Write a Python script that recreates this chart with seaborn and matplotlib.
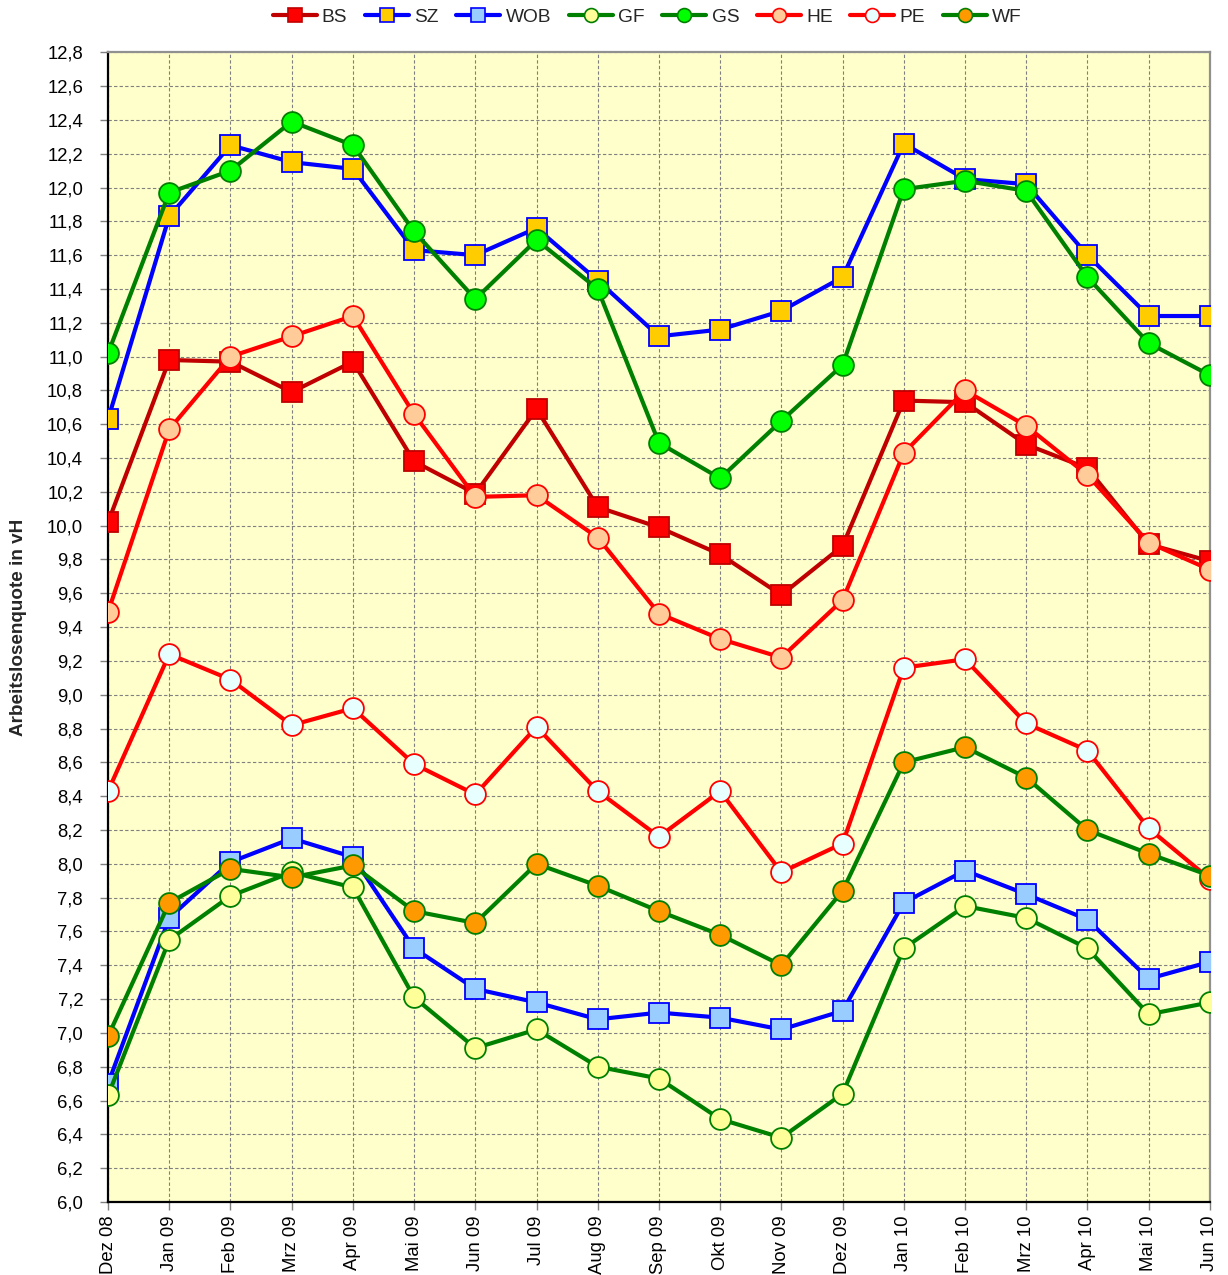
import matplotlib
matplotlib.use("Agg")
import matplotlib.pyplot as plt
from matplotlib.lines import Line2D
from matplotlib.ticker import FuncFormatter, MultipleLocator
import seaborn as sns
import pandas as pd

months = ["Dez 08", "Jan 09", "Feb 09", "Mrz 09", "Apr 09", "Mai 09", "Jun 09",
          "Jul 09", "Aug 09", "Sep 09", "Okt 09", "Nov 09", "Dez 09", "Jan 10",
          "Feb 10", "Mrz 10", "Apr 10", "Mai 10", "Jun 10"]

BS = [10.02, 10.98, 10.97, 10.79, 10.97, 10.38, 10.19, 10.69, 10.11, 9.99,
      9.83, 9.59, 9.88, 10.74, 10.73, 10.48, 10.34, 9.89, 9.79]
SZ = [10.63, 11.83, 12.25, 12.15, 12.11, 11.63, 11.60, 11.76, 11.45, 11.12,
      11.16, 11.27, 11.47, 12.26, 12.05, 12.02, 11.60, 11.24, 11.24]
WOB = [6.70, 7.68, 8.01, 8.15, 8.04, 7.50, 7.26, 7.18, 7.08, 7.12,
       7.09, 7.02, 7.13, 7.77, 7.96, 7.82, 7.67, 7.32, 7.42]
GF = [6.63, 7.55, 7.81, 7.95, 7.86, 7.21, 6.91, 7.02, 6.80, 6.73,
      6.49, 6.38, 6.64, 7.50, 7.75, 7.68, 7.50, 7.11, 7.18]
GS = [11.02, 11.97, 12.10, 12.39, 12.25, 11.74, 11.34, 11.69, 11.40, 10.49,
      10.28, 10.62, 10.95, 11.99, 12.04, 11.98, 11.47, 11.08, 10.89]
HE = [9.49, 10.57, 11.00, 11.12, 11.24, 10.66, 10.17, 10.18, 9.93, 9.48,
      9.33, 9.22, 9.56, 10.43, 10.80, 10.59, 10.30, 9.90, 9.74]
PE = [8.43, 9.24, 9.09, 8.82, 8.92, 8.59, 8.41, 8.81, 8.43, 8.16,
      8.43, 7.95, 8.12, 9.16, 9.21, 8.83, 8.67, 8.21, 7.91]
WF = [6.98, 7.77, 7.97, 7.92, 7.99, 7.72, 7.65, 8.00, 7.87, 7.72,
      7.58, 7.40, 7.84, 8.60, 8.69, 8.51, 8.20, 8.06, 7.93]

series_names = ["BS", "SZ", "WOB", "GF", "GS", "HE", "PE", "WF"]
series_values = [BS, SZ, WOB, GF, GS, HE, PE, WF]

# style: (line colour, marker, face colour, edge colour)
styles = {
    "BS":  ("#C00000", "s", "#FF0000", "#C00000"),
    "SZ":  ("#0000FF", "s", "#FFCC00", "#0000FF"),
    "WOB": ("#0000FF", "s", "#99CCFF", "#0000FF"),
    "GF":  ("#008000", "o", "#FFFF99", "#008000"),
    "GS":  ("#008000", "o", "#00FF00", "#008000"),
    "HE":  ("#FF0000", "o", "#FFCC99", "#FF0000"),
    "PE":  ("#FF0000", "o", "#E8FFFF", "#FF0000"),
    "WF":  ("#008000", "o", "#FF9900", "#008000"),
}

sns.set_theme(style="white")
plt.rcParams["font.family"] = ["Liberation Sans", "DejaVu Sans"]

FS = 13.3

fig = plt.figure(figsize=(12.28, 12.75), dpi=100)
ax = fig.add_axes([0.088, 0.0573, 0.8972, 0.9017])
ax.set_facecolor("#FFFFCC")

pos = list(range(len(months)))
for name, vals in zip(series_names, series_values):
    lc, mk, fc, ec = styles[name]
    df = pd.DataFrame({"x": pos, "y": vals})
    sns.lineplot(data=df, x="x", y="y", ax=ax, color=lc, linewidth=3.0,
                 marker=mk, markersize=15,
                 markerfacecolor=fc, markeredgecolor=ec, markeredgewidth=1.3,
                 legend=False, zorder=3)

ax.set_xlim(0, len(months) - 1)
ax.set_ylim(6.0, 12.8)
ax.yaxis.set_major_locator(MultipleLocator(0.2))
ax.yaxis.set_major_formatter(FuncFormatter(lambda v, p: f"{v:.1f}".replace(".", ",")))
ax.set_xticks(pos)
ax.set_xticklabels(months, rotation=90)
ax.tick_params(axis="both", labelsize=FS, direction="out",
               length=6, width=1, left=True, bottom=True)
ax.tick_params(axis="y", colors="#808080", labelcolor="black", pad=12)
ax.tick_params(axis="x", colors="#808080", labelcolor="black", pad=4)

ax.grid(True, which="major", color="#808080", linestyle=(0, (3, 2)), linewidth=0.8)
ax.set_axisbelow(True)

for s in ["left", "bottom"]:
    ax.spines[s].set_color("black")
    ax.spines[s].set_linewidth(1.6)
for s in ["top", "right"]:
    ax.spines[s].set_color("#909090")
    ax.spines[s].set_linewidth(1.6)

ax.set_xlabel("")
ax.set_ylabel("Arbeitslosenquote in vH", fontsize=13.6, fontweight="bold")
ax.yaxis.set_label_coords(-0.0735, 0.5)

handles = []
for name in series_names:
    lc, mk, fc, ec = styles[name]
    handles.append(Line2D([0], [0], color=lc, linewidth=3.0, marker=mk,
                          markersize=10, markerfacecolor=fc, markeredgecolor=ec,
                          markeredgewidth=1.2))
fig.legend(handles, series_names, loc="center", bbox_to_anchor=(0.527, 0.9867),
           ncol=8, frameon=False, fontsize=13.8, handlelength=2.3,
           handletextpad=0.27, columnspacing=0.92)

fig.savefig("out.png", dpi=100)
